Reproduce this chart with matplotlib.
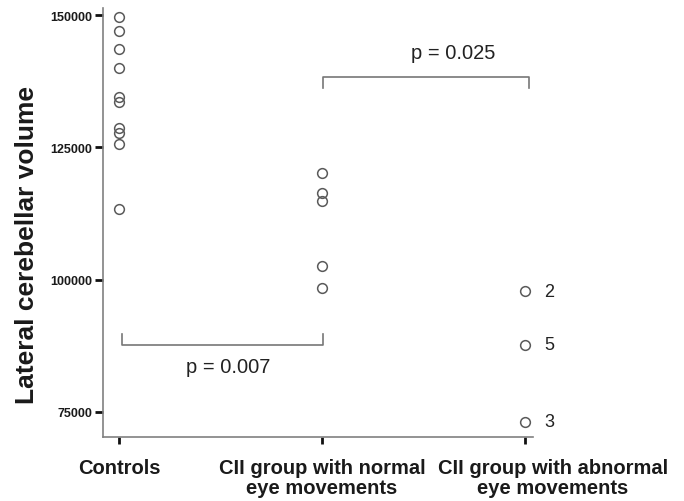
import matplotlib
matplotlib.use('Agg')
import matplotlib.pyplot as plt
import matplotlib.transforms as mtrans

plt.rcParams['font.family'] = ['Liberation Sans', 'DejaVu Sans']

# group names and volumes
groups = ['Controls', 'CII group with normal\neye movements',
          'CII group with abnormal\neye movements']
controls = [149700, 147000, 143600, 139900, 134600, 133500, 128700, 127800, 125600, 113400]
cii_normal = [120100, 116400, 114800, 102650, 98400]
cii_abnormal = [97800, 87700, 73200]
abnormal_ids = ['2', '5', '3']

yticks = [75000, 100000, 125000, 150000]

fig = plt.figure(figsize=(6.84, 5.02), dpi=100)
ax = fig.add_axes([0.1506, 0.1275, 0.6284, 0.8545])

for i, vals in enumerate([controls, cii_normal, cii_abnormal]):
    ax.plot([i] * len(vals), vals, 'o', ls='none', ms=7, mfc='none',
            mec='#5a5a5a', mew=1.1)

# case numbers next to the abnormal group
for v, lab in zip(cii_abnormal, abnormal_ids):
    ax.annotate(lab, (2, v), xytext=(14, 0), textcoords='offset points',
                va='center', ha='left', fontsize=13, color='#222222')

# significance brackets
bc = '#777777'
ax.plot([0.015, 0.015, 1.005, 1.005], [89730, 87650, 87650, 89730], color=bc, lw=1.2)
ax.text(0.537, 83690, 'p = 0.007', ha='center', va='center', fontsize=14.5, color='#222222')
ax.plot([1.005, 1.005, 2.02, 2.02], [136210, 138290, 138290, 136210], color=bc, lw=1.2)
ax.text(1.645, 143010, 'p = 0.025', ha='center', va='center', fontsize=14.5, color='#222222')

ax.set_xlim(-0.079, 2.039)
ax.set_ylim(70277, 151320)
ax.set_xticks(range(3))
ax.set_xticklabels(groups, fontsize=14.5, fontweight='bold', color='#1a1a1a',
                   linespacing=1.1)
ax.set_yticks(yticks)
ax.set_yticklabels([str(t) for t in yticks], fontsize=9, fontweight='bold', color='#1a1a1a')
ax.tick_params(axis='x', length=5, width=2, pad=10, color='#111111')
ax.tick_params(axis='y', length=6, width=2, pad=1.5, color='#111111')

# the last label sits to the right of its tick in the original
lbl = ax.get_xticklabels()[2]
lbl.set_transform(lbl.get_transform() + mtrans.ScaledTranslation(0.28, 0, fig.dpi_scale_trans))

for s in ['top', 'right']:
    ax.spines[s].set_visible(False)
for s in ['left', 'bottom']:
    ax.spines[s].set_color('#808080')
    ax.spines[s].set_linewidth(1.2)

fig.text(0.039, 0.512, 'Lateral cerebellar volume', rotation=90, ha='center', va='center',
         fontsize=19, fontweight='bold', color='#1a1a1a')

fig.savefig('out.png', dpi=100, facecolor='white')
